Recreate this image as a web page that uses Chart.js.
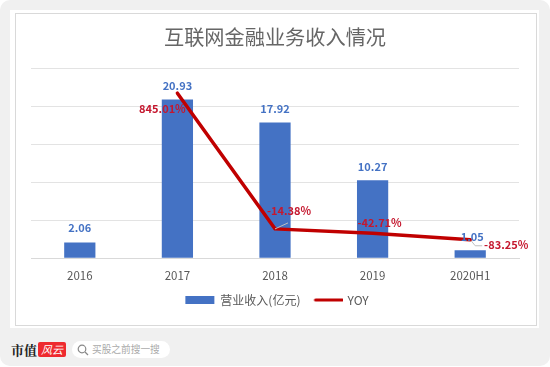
<!DOCTYPE html>
<html>
<head>
<meta charset="utf-8">
<script src="https://cdn.jsdelivr.net/npm/chart.js@4/dist/chart.umd.min.js"></script>
<style>
    html, body { margin: 0; padding: 0; background: #fff; }
    #page { position: absolute; left: 0; top: 0; width: 550px; height: 366px; background: #f0f0f0; border-radius: 10px; overflow: hidden; }
    #panel { position: absolute; left: 10px; top: 10px; width: 529px; height: 318px; background: #fff; }
    #frame { position: absolute; left: 15px; top: 13px; width: 520px; height: 311px; border: 1px solid #d9d9d9; background: #fff; }
    #frame canvas { display: block; }
    #brand { position: absolute; left: 11px; top: 341px; font: bold 13px/18px "Noto Serif CJK SC", "Noto Sans CJK SC", serif; color: #222; }
    #logo { position: absolute; left: 38px; top: 342px; width: 28px; height: 15px; background: #ee2a2f; border-radius: 2px; color: #fff; font: italic 11px/15px "Noto Sans CJK SC", sans-serif; text-align: center; }
    #search { position: absolute; left: 72px; top: 341px; width: 98px; height: 17px; background: #fff; border-radius: 9px; font: 9.7px/17px "Noto Sans CJK SC", sans-serif; color: #aaa; text-indent: 20px; white-space: nowrap; }
    #search svg { position: absolute; left: 5px; top: 3px; }
</style>
</head>
<body>
<div id="page">
    <div id="panel"></div>
    <div id="frame"><canvas id="incomeChart" width="520" height="311"></canvas></div>
    <div id="brand">市值</div>
    <div id="logo">风云</div>
    <div id="search">
        <svg width="12" height="12" viewBox="0 0 12 12"><circle cx="5" cy="5" r="3.8" fill="none" stroke="#888" stroke-width="1.2"/><line x1="8" y1="8" x2="11" y2="11" stroke="#888" stroke-width="1.2"/></svg>
        买股之前搜一搜
    </div>
</div>
<script>
const periods = ['2016', '2017', '2018', '2019', '2020H1'];
const revenue = [2.06, 20.93, 17.92, 10.27, 1.05];
const yoy = [null, 845.01, -14.38, -42.71, -83.25];
const yoyLabels = ['', '845.01%', '-14.38%', '-42.71%', '-83.25%'];

// label nudges in px, relative to the point they belong to
const revenueNudge = [[0, -15], [0, -14], [0, -14], [0, -14], [2, -13]];
const yoyNudge = [[0, 0], [-15, 16], [14, -18], [7, -11], [36, 5]];

const FONT = '"Noto Sans CJK SC", "Noto Sans", sans-serif';
const BLUE = '#4472c4';
const RED = '#c00000';
const LABEL_RED = '#c5172e';

function swatch(w, h, draw) {
    const c = document.createElement('canvas');
    c.width = w;
    c.height = h;
    draw(c.getContext('2d'));
    return c;
}

// swatches carry a transparent left margin so the legend items sit further apart
const barSwatch = swatch(37, 8, g => {
    g.fillStyle = BLUE;
    g.fillRect(6, 0, 29, 8);
});
const lineSwatch = swatch(37, 8, g => {
    g.strokeStyle = RED;
    g.lineWidth = 3;
    g.lineCap = 'round';
    g.beginPath();
    g.moveTo(9, 4);
    g.lineTo(36, 4);
    g.stroke();
});

// value labels and the two little leader lines
const valueLabels = {
    id: 'valueLabels',
    afterDatasetsDraw(chart) {
        const ctx = chart.ctx;
        const bars = chart.getDatasetMeta(0).data;
        const pts = chart.getDatasetMeta(1).data;
        ctx.save();

        ctx.strokeStyle = '#bfbfbf';
        ctx.lineWidth = 1;
        ctx.beginPath();
        ctx.moveTo(pts[2].x, pts[2].y);
        ctx.lineTo(pts[2].x + 13, pts[2].y - 6);
        ctx.moveTo(pts[4].x + 1, pts[4].y + 1);
        ctx.lineTo(pts[4].x + 5, pts[4].y + 6);
        ctx.lineTo(pts[4].x + 12, pts[4].y + 6);
        ctx.stroke();

        ctx.textAlign = 'center';
        ctx.textBaseline = 'middle';
        ctx.font = 'bold 11px ' + FONT;
        ctx.fillStyle = BLUE;
        bars.forEach((bar, i) => {
            ctx.fillText(revenue[i].toFixed(2), bar.x + revenueNudge[i][0], bar.y + revenueNudge[i][1]);
        });
        ctx.fillStyle = LABEL_RED;
        pts.forEach((pt, i) => {
            if (!yoyLabels[i]) return;
            ctx.fillText(yoyLabels[i], pt.x + yoyNudge[i][0], pt.y + yoyNudge[i][1]);
        });
        ctx.restore();
    }
};

new Chart(document.getElementById('incomeChart'), {
    data: {
        labels: periods,
        datasets: [
            {
                type: 'bar',
                label: '营业收入(亿元)',
                data: revenue,
                backgroundColor: BLUE,
                barPercentage: 0.32,
                categoryPercentage: 1,
                yAxisID: 'y',
                order: 2
            },
            {
                type: 'line',
                label: 'YOY',
                data: yoy,
                borderColor: RED,
                borderWidth: 3.5,
                borderCapStyle: 'round',
                pointRadius: 0,
                tension: 0,
                yAxisID: 'y2',
                order: 1
            }
        ]
    },
    options: {
        responsive: false,
        animation: false,
        layout: { padding: { left: 15, right: 17, top: 0, bottom: 9 } },
        plugins: {
            title: {
                display: true,
                text: '互联网金融业务收入情况',
                color: '#666666',
                font: { family: FONT, size: 20.2, weight: 'normal' },
                padding: { top: 11, bottom: 19.5 }
            },
            legend: {
                position: 'bottom',
                labels: {
                    usePointStyle: true,
                    pointStyleWidth: 33,
                    color: '#595959',
                    font: { family: FONT, size: 12 },
                    padding: 8,
                    generateLabels(chart) {
                        return chart.data.datasets.map((ds, i) => ({
                            text: ds.label,
                            fontColor: '#595959',
                            pointStyle: i === 0 ? barSwatch : lineSwatch,
                            datasetIndex: i,
                            lineWidth: 0
                        }));
                    }
                }
            },
            tooltip: { enabled: false }
        },
        scales: {
            x: {
                grid: { display: false },
                border: { color: '#d9d9d9' },
                ticks: { color: '#595959', font: { family: FONT, size: 11.5 }, padding: 3 }
            },
            y: {
                min: 0,
                max: 25,
                ticks: { display: false, stepSize: 5 },
                grid: { color: '#e3e3e3', drawTicks: false },
                border: { display: false }
            },
            y2: {
                position: 'right',
                min: -200,
                max: 1000,
                display: false
            }
        }
    },
    plugins: [valueLabels]
});
</script>
</body>
</html>
